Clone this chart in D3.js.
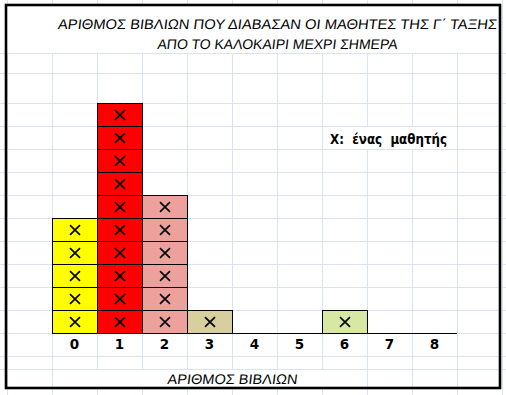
<!DOCTYPE html>
<html>
<head>
<meta charset="utf-8">
<script src="https://cdn.jsdelivr.net/npm/d3@7"></script>
<style>
html,body{margin:0;padding:0;background:#fff;}
svg{display:block;}
</style>
</head>
<body>
<svg id="chart" width="506" height="395"></svg>
<script>
// ---- data ----
const categories = ["0","1","2","3","4","5","6","7","8"];
const students = [5, 10, 6, 1, 0, 0, 1, 0, 0];
const titleLines = ["ΑΡΙΘΜΟΣ ΒΙΒΛΙΩΝ ΠΟΥ ΔΙΑΒΑΣΑΝ ΟΙ ΜΑΘΗΤΕΣ ΤΗΣ Γ΄ ΤΑΞΗΣ", "ΑΠΟ ΤΟ ΚΑΛΟΚΑΙΡΙ ΜΕΧΡΙ ΣΗΜΕΡΑ"];
const legendText = "X:  ένας  μαθητής";
const axisTitle = "ΑΡΙΘΜΟΣ ΒΙΒΛΙΩΝ";

// ---- styles ----
const colorScale = d3.scaleOrdinal()
  .domain(categories)
  .range(["#FFFF00","#FF0000","#EDA19C","#D8CF9F","#FFFFFF","#FFFFFF","#D6E8A2","#FFFFFF","#FFFFFF"]);
const gridColor = "#dae3f1";

const svg = d3.select("#chart");
const W = 506, H = 395;

// scales: one spreadsheet column per category, one row per student
const x = d3.scaleBand().domain(categories).range([52, 457]).paddingInner(0).paddingOuter(0);
const y = d3.scaleLinear().domain([0, 10]).range([333, 103]);
const step = x.bandwidth();
const rowH = y(0) - y(1);

svg.append("rect").attr("width", W).attr("height", H).attr("fill", "#fff");

// ---- spreadsheet grid ----
const grid = svg.append("g").attr("stroke", gridColor).attr("stroke-width", 1).attr("shape-rendering", "crispEdges");
const colLines = d3.range(-1, categories.length + 2).map(i => x.range()[0] + i * step);
grid.selectAll("line.v").data(colLines).join("line")
  .attr("x1", d => d + 0.5).attr("x2", d => d + 0.5).attr("y1", 0).attr("y2", H);
const rowLines = [53, 73].concat(d3.range(0, 11).map(v => y(v)), [y(0) + rowH, 369]);
grid.selectAll("line.h").data(rowLines).join("line")
  .attr("x1", 0).attr("x2", W).attr("y1", d => Math.round(d) + 0.5).attr("y2", d => Math.round(d) + 0.5);

// merged cells (white, hide gridlines)
const white = svg.append("g").attr("fill", "#fff").attr("shape-rendering", "crispEdges");
white.append("rect").attr("x", 6).attr("y", 5).attr("width", 494).attr("height", 48);
white.append("rect").attr("x", x("6") + 1).attr("y", Math.round(y(9)) + 1).attr("width", step * 3 - 1).attr("height", rowH - 1);
white.append("rect").attr("x", x("0") + 1).attr("y", 370).attr("width", x("7") - x("0") - 1).attr("height", 18);

// ---- cells with X marks ----
const cells = [];
categories.forEach((c, ci) => {
  for (let k = 0; k < students[ci]; k++) cells.push({cat: c, k: k});
});
const cellG = svg.append("g");
cellG.selectAll("rect").data(cells).join("rect")
  .attr("x", d => x(d.cat) + 0.5)
  .attr("y", d => Math.round(y(d.k + 1)) + 0.5)
  .attr("width", step)
  .attr("height", d => Math.round(y(d.k)) - Math.round(y(d.k + 1)))
  .attr("fill", d => colorScale(d.cat))
  .attr("stroke", "#000")
  .attr("stroke-width", 1)
  .attr("shape-rendering", "crispEdges");

cellG.selectAll("path.mark").data(cells).join("path")
  .attr("class", "mark")
  .attr("d", d => {
    const cx = x(d.cat) + step / 2 + 0.5;
    const cy = (Math.round(y(d.k)) + Math.round(y(d.k + 1))) / 2 + 0.5;
    const hw = 5, hh = 4.8;
    return `M${cx-hw},${cy-hh}L${cx+hw},${cy+hh}M${cx+hw},${cy-hh}L${cx-hw},${cy+hh}`;
  })
  .attr("stroke", "#000").attr("stroke-width", 1.7).attr("fill", "none");

// ---- baseline axis ----
svg.append("line")
  .attr("x1", x.range()[0]).attr("x2", x.range()[1])
  .attr("y1", y(0) + 0.5).attr("y2", y(0) + 0.5)
  .attr("stroke", "#000").attr("stroke-width", 1.2);

const xAxis = d3.axisBottom(x).tickSize(0).tickPadding(0);
const axG = svg.append("g").attr("transform", `translate(0,${y(0)})`).call(xAxis);
axG.select(".domain").remove();
axG.selectAll("text")
  .attr("y", 16).attr("dy", 0)
  .attr("font-family", "'DejaVu Sans', sans-serif")
  .attr("font-weight", "bold").attr("font-size", 13.5).attr("fill", "#000");

// ---- texts (slightly oblique, like the original font) ----
function slanted(tx, ty, str, len) {
  svg.append("g").attr("transform", `translate(${tx},${ty}) skewX(-7)`)
    .append("text").attr("x", 0).attr("y", 0)
    .attr("text-anchor", "middle")
    .attr("font-family", "'Liberation Sans', 'DejaVu Sans', sans-serif")
    .attr("font-size", 14).attr("fill", "#000")
    .attr("textLength", len).attr("lengthAdjust", "spacingAndGlyphs")
    .text(str);
}
slanted(277, 28.5, titleLines[0], 439);
slanted(277, 48.5, titleLines[1], 240);
slanted(232, 383.5, axisTitle, 130);

svg.append("text").attr("x", 330).attr("y", 144)
  .attr("font-family", "'DejaVu Sans', sans-serif")
  .attr("font-weight", "bold").attr("font-size", 14).attr("fill", "#000")
  .attr("textLength", 117).attr("lengthAdjust", "spacingAndGlyphs")
  .attr("xml:space", "preserve")
  .text(legendText);

// ---- outer frame ----
svg.append("rect").attr("x", 6).attr("y", 5).attr("width", 494).attr("height", 383)
  .attr("fill", "none").attr("stroke", "#000").attr("stroke-width", 2.6);
</script>
</body>
</html>
